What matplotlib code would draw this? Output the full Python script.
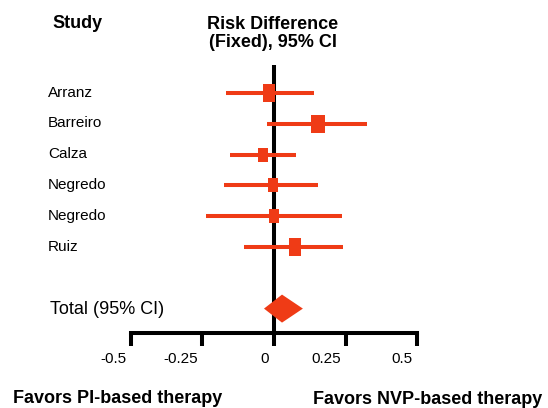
import numpy as np
import matplotlib
matplotlib.use('Agg')
import matplotlib.pyplot as plt
from matplotlib.path import Path

# 数据
studies = ['Arranz', 'Barreiro', 'Calza', 'Negredo', 'Negredo', 'Ruiz']
rd = [-0.019, 0.154, -0.038, -0.003, 0.0, 0.072]
ci_low = [-0.168, -0.024, -0.154, -0.175, -0.238, -0.105]
ci_high = [0.140, 0.325, 0.077, 0.154, 0.238, 0.241]
weights = [19.4, 21.7, 13.2, 13.2, 13.2, 19.4]
total_label = 'Total (95% CI)'
total_rd = 0.028
total_low = -0.035
total_high = 0.101
xticks = [-0.5, -0.25, 0, 0.25, 0.5]
xtick_labels = ['-0.5', '-0.25', '0', '0.25', '0.5']

RED = '#EF3B16'
FONT = 'Liberation Sans'
W, H = 548, 408


def fig_xy(x, y):
    # 像素坐标(左上角为原点) -> figure fraction
    return x / W, 1 - y / H


fig = plt.figure(figsize=(W / 100, H / 100), dpi=100)
ax = fig.add_axes([0, 0, 1, 1])
ax.patch.set_visible(False)
ax.set_xlim(-0.958, 0.958)
ax.set_ylim(10.227, -3.019)

rows = np.arange(len(studies))
total_row = len(studies) + 1
axis_y = 7.79

# 零线
ax.vlines(0, -0.91, axis_y, color='black', lw=2.9, zorder=1)

# 置信区间 + 方块
ax.hlines(rows, ci_low, ci_high, color=RED, lw=2.9, zorder=2)
box = Path([(-0.37, -0.5), (0.37, -0.5), (0.37, 0.5), (-0.37, 0.5), (-0.37, -0.5)],
           [Path.MOVETO, Path.LINETO, Path.LINETO, Path.LINETO, Path.CLOSEPOLY])
for i in rows:
    size = 3.86 * np.sqrt(weights[i]) * 0.72
    ax.plot(rd[i], i, marker=box, markersize=size, color=RED, mew=0, zorder=3)
    ax.text(-0.79, i + 0.12, studies[i], fontsize=11, family=FONT, va='baseline')

# 合并效应菱形
dh = 0.455
ax.fill([total_low, total_rd, total_high, total_rd],
        [total_row, total_row - dh, total_row, total_row + dh],
        color=RED, lw=0, zorder=3)
ax.text(-0.783, total_row + 0.16, total_label, fontsize=13, family=FONT, va='baseline')

# x轴
for side in ['left', 'top', 'right']:
    ax.spines[side].set_visible(False)
ax.spines['bottom'].set_position(('data', axis_y))
ax.spines['bottom'].set_bounds(-0.5, 0.5)
ax.spines['bottom'].set_linewidth(2.9)
ax.set_yticks([])
ax.set_xticks(xticks)
ax.tick_params(axis='x', direction='out', length=9.4, width=2.9, labelbottom=False)
for t, lab in zip(xticks, xtick_labels):
    ax.annotate(lab, xy=(t, axis_y), xytext=(-3.5, -21.6), textcoords='offset points',
                ha='right', va='baseline', fontsize=11, family=FONT)

# 标题
fig.text(*fig_xy(52, 28), 'Study', fontsize=13, weight='bold', family=FONT, va='baseline')
fig.text(*fig_xy(273, 47), 'Risk Difference\n(Fixed), 95% CI', fontsize=13, weight='bold',
         family=FONT, ha='center', va='baseline', multialignment='center', linespacing=1.1)
fig.text(*fig_xy(13, 403), 'Favors PI-based therapy', fontsize=13, weight='bold',
         family=FONT, va='baseline')
fig.text(*fig_xy(313, 404), 'Favors NVP-based therapy', fontsize=13, weight='bold',
         family=FONT, va='baseline')

fig.savefig('out.png', dpi=100)
